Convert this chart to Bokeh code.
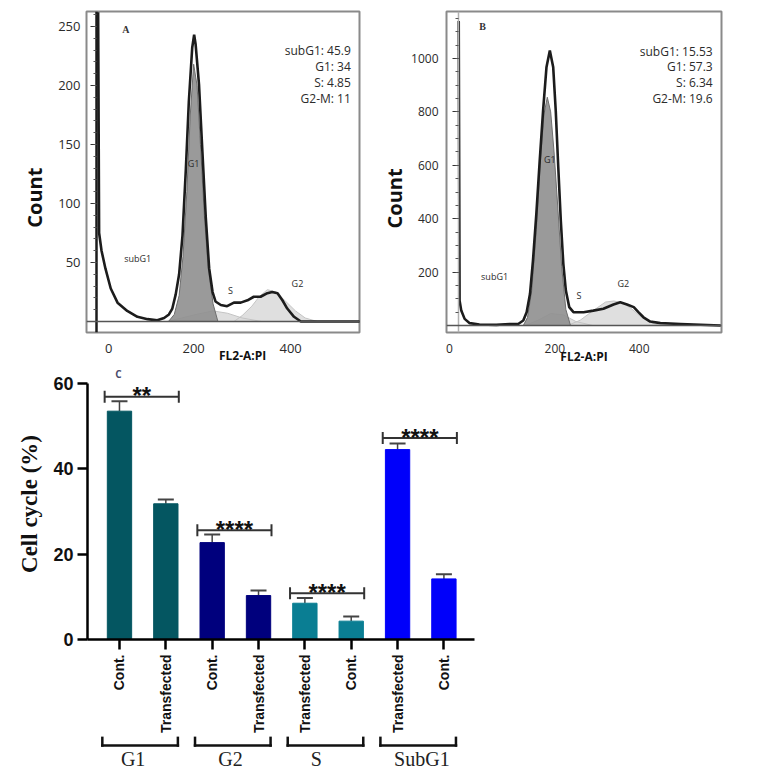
import numpy as np
from bokeh.plotting import figure
from bokeh.models import (FixedTicker, LinearAxis, Range1d, ColumnDataSource,
                          Whisker, TeeHead, Span)
from bokeh.layouts import column, row
from bokeh.embed import file_html
from bokeh.resources import INLINE
from bokeh.core.properties import value

# ---------------- Panel A data (FL2-A:PI histogram) ----------------
a_x = [3, 5, 10, 18, 29, 43, 63, 84, 105, 125, 139, 149, 156, 163, 170, 177, 184, 190, 197,
       201, 204, 211, 218, 225, 232, 239, 245, 256, 269, 283, 297, 311, 324, 338, 352, 362,
       373, 383, 393, 407, 421, 448, 545]
a_count = [262, 75, 60, 45, 28, 16, 9, 4, 2, 1, 3, 6, 11, 23, 40, 73, 130, 186, 232,
           243, 235, 201, 144, 88, 45, 25, 17, 14, 13, 16, 16, 18, 21, 21, 24, 25,
           24, 18, 11, 4, 0, 0, 0]
a_g1_x = [148, 160, 170, 178, 186, 193, 200, 207, 214, 222, 230, 240, 250]
a_g1_count = [0, 6, 22, 55, 110, 175, 218, 200, 150, 90, 45, 15, 0]
a_s_x = [145, 175, 205, 240, 270, 300, 340]
a_s_count = [0, 3, 6, 9, 7, 3, 0]
a_g2_x = [283, 300, 320, 335, 352, 370, 390, 410, 430, 455]
a_g2_count = [0, 5, 13, 21, 27, 25, 17, 9, 3, 0]
a_stats = ["subG1: 45.9", "G1: 34", "S: 4.85", "G2-M: 11"]
a_yticks = [50, 100, 150, 200, 250]
a_xticks = {25: "0", 200: "200", 400: "400"}

# ---------------- Panel B data ----------------
b_x = [-28, -26, -22, -14, -2, 21, 61, 93, 113, 125, 133, 141, 148, 156, 164, 172, 180, 188,
       196, 202, 208, 214, 220, 226, 234, 244, 268, 291, 315, 339, 355, 371, 387, 398, 410,
       426, 450, 498, 593]
b_count = [1140, 94, 56, 25, 9, 4, 2.5, 6, 6, 19, 50, 119, 243, 418, 618, 805, 967, 1030,
           967, 805, 593, 393, 231, 131, 69, 50, 50, 56, 63, 79, 87, 79, 69, 50, 31,
           15, 9, 6, 0]
b_g1_x = [125, 135, 145, 156, 165, 174, 182, 190, 198, 207, 216, 226, 237]
b_g1_count = [0, 30, 130, 360, 600, 790, 855, 800, 650, 440, 220, 60, 0]
b_s_x = [130, 160, 190, 220, 250, 290]
b_s_count = [0, 20, 45, 40, 15, 0]
b_g2_x = [230, 260, 290, 320, 340, 360, 380, 400, 425, 450]
b_g2_count = [0, 20, 55, 88, 92, 85, 65, 38, 12, 0]
b_stats = ["subG1: 15.53", "G1: 57.3", "S: 6.34", "G2-M: 19.6"]
b_yticks = [200, 400, 600, 800, 1000]
b_xticks = {-50: "0", 200: "200", 400: "400"}

phase_labels = ["subG1", "G1", "S", "G2"]

# ---------------- Panel C data (bar chart) ----------------
c_categories = ["Cont.", "Transfected", "Cont.", "Transfected",
                "Transfected", "Cont.", "Transfected", "Cont."]
c_groups = ["G1", "G1", "G2", "G2", "S", "S", "SubG1", "SubG1"]
c_values = [53.5, 31.8, 22.7, 10.3, 8.5, 4.3, 44.5, 14.2]
c_errors = [2.35, 1.0, 1.9, 1.2, 1.2, 1.1, 1.4, 1.1]
group_names = ["G1", "G2", "S", "SubG1"]
sig_labels = ["**", "****", "****", "****"]
sig_heights = [56.9, 25.6, 10.85, 47.2]
c_yticks = [0, 20, 40, 60]

# ---------------- styles ----------------
group_colors = {"G1": "#045661", "G2": "#00007d", "S": "#0a7e93", "SubG1": "#0000fa"}
group_label_shift = [-0.15, -0.05, -0.2, 0.08]
TXT = "#2b2b2b"
SANS = "Open Sans"


def bare(ax):
    ax.axis_line_color = None
    ax.major_tick_line_color = None
    ax.minor_tick_line_color = None
    ax.major_tick_out = 0
    ax.major_tick_in = 0
    ax.minor_tick_out = 0
    ax.minor_tick_in = 0


def hist_panel(xr, yr, yticks, xticks, borders, label_font, width, height, count_at):
    p = figure(width=width, height=height, x_range=Range1d(*xr), y_range=Range1d(*yr),
               output_backend="svg", toolbar_location=None,
               min_border_left=borders[0], min_border_right=borders[1],
               min_border_top=borders[2], min_border_bottom=borders[3])
    p.grid.visible = False
    p.outline_line_color = "#8a8a8a"
    p.outline_line_width = 2

    ya = p.yaxis[0]
    ya.ticker = FixedTicker(ticks=yticks)
    bare(ya)
    ya.major_label_text_font = SANS
    ya.major_label_text_font_size = label_font
    ya.major_label_text_color = TXT

    # "Count" title sits below the frame centre, so it is carried by a tick-less axis
    cnt_ax = LinearAxis(ticker=FixedTicker(ticks=[count_at]),
                        major_label_overrides={count_at: "Count"},
                        major_label_orientation="parallel",
                        major_label_text_font=SANS, major_label_text_font_style="bold",
                        major_label_text_font_size="20px", major_label_text_color="#111")
    bare(cnt_ax)
    p.add_layout(cnt_ax, "left")

    xa = p.xaxis[0]
    xa.ticker = FixedTicker(ticks=list(xticks.keys()))
    xa.major_label_overrides = dict(xticks)
    bare(xa)
    xa.major_label_text_font = SANS
    xa.major_label_text_font_size = label_font
    xa.major_label_text_color = TXT
    return p


def decorate(p, x, cnt, g1x, g1c, sx, sc, g2x, g2c):
    p.varea(x=sx, y1=0, y2=sc, fill_color="#d9d9d9", fill_alpha=0.85)
    p.varea(x=g2x, y1=0, y2=g2c, fill_color="#d9d9d9", fill_alpha=0.85)
    p.line(x=sx, y=sc, line_color="#c4c4c4", line_width=1)
    p.line(x=g2x, y=g2c, line_color="#c4c4c4", line_width=1)
    p.varea(x=g1x, y1=0, y2=g1c, fill_color="#8f8f8f", fill_alpha=0.9)
    p.line(x=g1x, y=g1c, line_color="#6e6e6e", line_width=1)
    p.add_layout(Span(location=0, dimension="width", line_color="#555", line_width=1.5))
    p.line(x=x, y=cnt, line_color="#1c1c1c", line_width=2.6)


def inner_axis(loc, ticks, minor, color, w):
    return LinearAxis(fixed_location=loc,
                      ticker=FixedTicker(ticks=ticks, minor_ticks=minor),
                      axis_line_color=color, axis_line_width=w,
                      major_tick_in=6, major_tick_out=0, minor_tick_in=3, minor_tick_out=0,
                      major_tick_line_color="#333", minor_tick_line_color="#555",
                      major_label_text_font_size="1px", major_label_text_color=None,
                      major_label_standoff=0)


# ---------- Panel A ----------
pa = hist_panel((-21, 542), (-9.3, 262.7), a_yticks, a_xticks, (86, 16, 11, 36), "13px",
                375, 368, 105)
pa.yaxis[0].major_label_standoff = 6
pa.left[-1].major_label_standoff = 7
pa.xaxis[0].major_label_standoff = 11
pa.add_layout(inner_axis(0, [0] + a_yticks, list(range(0, 261, 10)), "#1c1c1c", 2.5), "right")
title_ax = LinearAxis(ticker=FixedTicker(ticks=[301]), major_label_overrides={301: "FL2-A:PI"},
                      major_label_standoff=-9,
                      major_label_text_font=SANS, major_label_text_font_style="bold",
                      major_label_text_font_size="12px", major_label_text_color="#111")
bare(title_ax)
pa.add_layout(title_ax, "below")
decorate(pa, a_x, a_count, a_g1_x, a_g1_count, a_s_x, a_s_count, a_g2_x, a_g2_count)
pa.text(x=[524] * 4, y=[229.7, 216, 202.5, 189], text=a_stats, text_align="right",
        text_baseline="middle", text_font=value(SANS), text_font_size="12px", text_color=TXT)
pa.text(x=[84.5, 200, 276, 414], y=[53.4, 134, 26, 32], text=phase_labels,
        text_align="center", text_baseline="middle", text_font=value(SANS),
        text_font_size="9px", text_color=TXT)
pa.text(x=[60], y=[247.5], text=["A"], text_align="center", text_baseline="middle",
        text_font=value("Liberation Serif"), text_font_style="bold", text_font_size="10px",
        text_color="#333")

# ---------- Panel B ----------
pb = hist_panel((-57, 595), (-26, 1176), b_yticks, b_xticks, (71, 39, 11, 36), "12px",
                385, 368, 476)
pb.yaxis[0].major_label_standoff = 8
pb.left[-1].major_label_standoff = 0
xb = pb.xaxis[0]
xb.major_label_standoff = 11
xb.axis_label = "FL2-A:PI"
xb.axis_label_text_font = SANS
xb.axis_label_text_font_style = "bold"
xb.axis_label_text_font_size = "12px"
xb.axis_label_text_color = "#111"
xb.axis_label_standoff = -8
pb.add_layout(inner_axis(-29, [0] + b_yticks, list(range(0, 1151, 50)), "#b0b0b0", 1.5),
              "right")
decorate(pb, b_x, b_count, b_g1_x, b_g1_count, b_s_x, b_s_count, b_g2_x, b_g2_count)
pb.text(x=[574] * 4, y=[1026, 970, 910, 850], text=b_stats, text_align="right",
        text_baseline="middle", text_font=value(SANS), text_font_size="12px", text_color=TXT)
pb.text(x=[57, 188, 257, 362], y=[183, 622, 112, 157], text=phase_labels,
        text_align="center", text_baseline="middle", text_font=value(SANS),
        text_font_size="9px", text_color=TXT)
pb.text(x=[28.6], y=[1120], text=["B"], text_align="center", text_baseline="middle",
        text_font=value("Liberation Serif"), text_font_style="bold", text_font_size="10px",
        text_color="#333")

# ---------- Panel C ----------
c_x = list(range(1, len(c_values) + 1))
shared_x = Range1d(0.31, 8.66)
pc = figure(width=494, height=368, x_range=shared_x, y_range=Range1d(0, 63.5),
            output_backend="svg", toolbar_location=None,
            min_border_left=87, min_border_right=20, min_border_top=0, min_border_bottom=97)
pc.grid.visible = False
pc.outline_line_color = None

src = ColumnDataSource(dict(x=c_x, top=c_values, color=[group_colors[g] for g in c_groups],
                            up=[v + e for v, e in zip(c_values, c_errors)]))
pc.vbar(x="x", top="top", bottom=0, width=0.525, fill_color="color", line_color="color",
        source=src)
pc.add_layout(Whisker(source=src, base="x", lower="top", upper="up", dimension="height",
                      line_color="#444", line_width=1.5, lower_head=None,
                      upper_head=TeeHead(size=16, line_color="#444", line_width=2)))

firsts = [c_groups.index(g) + 1 for g in group_names]
lasts = [len(c_groups) - c_groups[::-1].index(g) for g in group_names]
sig_lo = [f - 0.32 for f in firsts]
sig_hi = [l + 0.28 for l in lasts]
sig_src = ColumnDataSource(dict(base=sig_heights, lower=sig_lo, upper=sig_hi,
                                mid=[(a + b) / 2 for a, b in zip(sig_lo, sig_hi)],
                                lab=sig_labels))
pc.add_layout(Whisker(source=sig_src, base="base", lower="lower", upper="upper",
                      dimension="width", line_color="#333", line_width=2,
                      lower_head=TeeHead(size=12, line_color="#333", line_width=2),
                      upper_head=TeeHead(size=12, line_color="#333", line_width=2)))
pc.text(x="mid", y="base", text="lab", source=sig_src, text_align="center",
        text_baseline="alphabetic", y_offset=-1, text_font=value("Liberation Sans"),
        text_font_style="bold", text_font_size="24px", text_color="#111")

pc.text(x=[0.98], y=[62.1], text=["C"], text_align="center", text_baseline="middle",
        text_font=value(SANS), text_font_style="bold", text_font_size="10px",
        text_color="#4a4a6a")

ya = pc.yaxis[0]
ya.ticker = FixedTicker(ticks=c_yticks)
ya.bounds = (0, 60)
ya.axis_line_width = 2.5
ya.major_tick_line_width = 2.5
ya.major_tick_out = 10
ya.major_tick_in = 0
ya.minor_tick_line_color = None
ya.major_label_text_font = "Liberation Sans"
ya.major_label_text_font_style = "bold"
ya.major_label_text_font_size = "18px"
ya.major_label_text_color = "#111"
ya.major_label_standoff = 4
ya.axis_label = "Cell cycle (%)"
ya.axis_label_text_font = "Liberation Serif"
ya.axis_label_text_font_style = "bold"
ya.axis_label_text_font_size = "23px"
ya.axis_label_text_color = "#111"
ya.axis_label_standoff = 8

xa = pc.xaxis[0]
xa.ticker = FixedTicker(ticks=c_x)
xa.major_label_overrides = {i: c for i, c in zip(c_x, c_categories)}
xa.major_label_orientation = np.pi / 2
xa.axis_line_width = 2.5
xa.major_tick_line_width = 2.5
xa.major_tick_out = 10
xa.major_tick_in = 0
xa.minor_tick_line_color = None
xa.major_label_text_font = "Liberation Sans"
xa.major_label_text_font_style = "bold"
xa.major_label_text_font_size = "14px"
xa.major_label_text_color = "#111"
xa.major_label_standoff = 5

# ---------- group brackets under panel C (same x scale) ----------
pg = figure(width=494, height=43, x_range=shared_x, y_range=Range1d(0, 43),
            output_backend="svg", toolbar_location=None,
            x_axis_location=None, y_axis_location=None,
            min_border_left=87, min_border_right=20, min_border_top=0, min_border_bottom=0)
pg.grid.visible = False
pg.outline_line_color = None
br_lo = [f - 0.37 for f in firsts]
br_hi = [l + 0.26 for l in lasts]
BR_TOP, BR_BASE, LAB_Y = 42, 34, 21
seg_x0, seg_y0, seg_x1, seg_y1 = [], [], [], []
for lo, hi in zip(br_lo, br_hi):
    seg_x0 += [lo, lo, hi]
    seg_y0 += [BR_TOP, BR_BASE, BR_BASE]
    seg_x1 += [lo, hi, hi]
    seg_y1 += [BR_BASE, BR_BASE, BR_TOP]
pg.segment(x0=seg_x0, y0=seg_y0, x1=seg_x1, y1=seg_y1, line_color="#111", line_width=2.5,
           line_cap="square")
pg.text(x=[(lo + hi) / 2 + s for lo, hi, s in zip(br_lo, br_hi, group_label_shift)],
        y=[LAB_Y] * 4, text=group_names, text_align="center", text_baseline="middle",
        text_font=value("Liberation Serif"), text_font_size="20px", text_color="#222")

layout = column(row(pa, pb), pc, pg)
open("out.html", "w").write(file_html(layout, INLINE))
